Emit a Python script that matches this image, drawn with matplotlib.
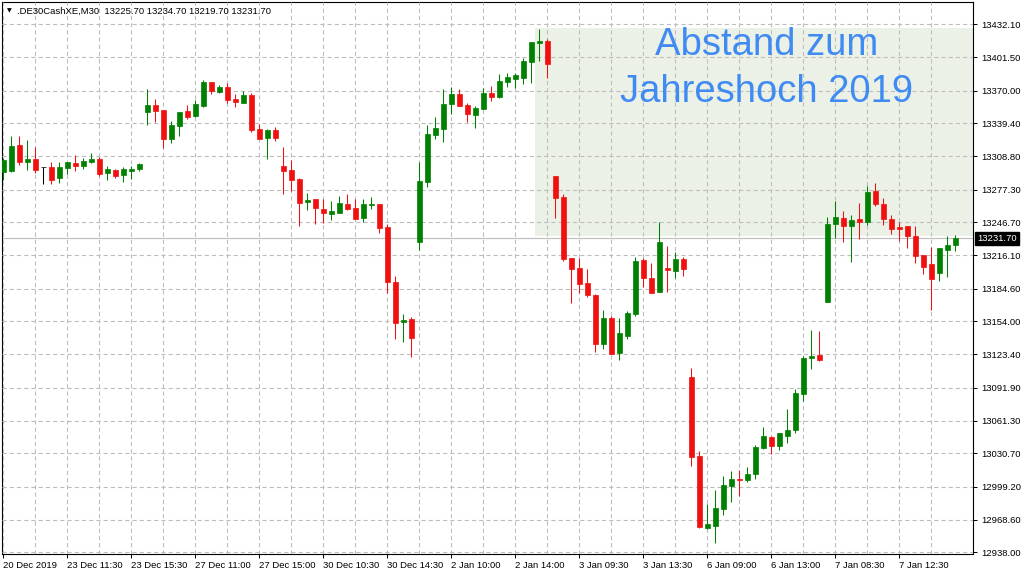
import matplotlib
matplotlib.use("Agg")
import matplotlib.pyplot as plt
from matplotlib.patches import Rectangle
import numpy as np

plt.rcParams['font.family'] = ['Liberation Sans', 'DejaVu Sans']
plt.rcParams['lines.scale_dashes'] = False

# ---------------- data (M30 candles, .DE30CashXE) ----------------
opens = [13294.2, 13294.8, 13319.2, 13303.5, 13306.1, 13298.3, 13298.6, 13288.5, 13297.9, 13302.3,
         13299.8, 13303.5, 13306.1, 13293.2, 13295.8, 13291.4, 13295.1, 13297.0, 13350.3, 13356.6,
         13351.9, 13325.0, 13337.2, 13351.0, 13346.6, 13355.9, 13378.1, 13369.0, 13373.4, 13362.2,
         13358.7, 13365.9, 13333.8, 13326.0, 13333.2, 13299.5, 13295.8, 13287.3, 13266.1, 13268.6,
         13259.3, 13254.9, 13255.8, 13263.9, 13260.5, 13251.1, 13263.0, 13263.9, 13242.4, 13190.9,
         13153.5, 13156.3, 13228.7, 13284.8, 13328.8, 13334.4, 13357.8, 13366.9, 13356.6, 13347.5,
         13353.1, 13367.8, 13364.3, 13378.4, 13380.9, 13382.1, 13397.1, 13414.3, 13416.5, 13290.1,
         13270.5, 13213.4, 13204.1, 13190.0, 13178.8, 13133.2, 13157.3, 13124.8, 13140.7, 13161.3,
         13211.5, 13194.7, 13181.9, 13204.1, 13201.5, 13212.5, 13102.0, 13028.1, 12960.7, 12962.6,
         12978.5, 13000.0, 13006.6, 13005.7, 13011.3, 13035.6, 13045.9, 13037.5, 13046.8, 13052.5,
         13086.1, 13119.8, 13122.6, 13172.5, 13245.5, 13250.8, 13243.6, 13249.9, 13247.4, 13276.1,
         13263.9, 13249.9, 13242.1, 13243.4, 13234.0, 13216.2, 13207.8, 13199.7, 13220.9, 13225.7]
highs = [13306.7, 13327.9, 13327.9, 13323.8, 13317.6, 13298.3, 13303.2, 13303.2, 13303.2, 13309.8,
         13306.7, 13311.7, 13307.6, 13299.5, 13296.7, 13298.6, 13299.8, 13302.3, 13371.6, 13362.2,
         13351.9, 13341.6, 13350.0, 13356.6, 13361.3, 13380.0, 13378.1, 13375.3, 13377.2, 13366.9,
         13369.7, 13367.8, 13338.8, 13334.1, 13336.0, 13317.3, 13305.4, 13288.5, 13274.2, 13268.6,
         13268.6, 13266.7, 13271.4, 13273.3, 13268.6, 13268.6, 13270.5, 13263.9, 13244.9, 13196.6,
         13161.0, 13158.2, 13303.2, 13337.9, 13345.4, 13371.6, 13373.4, 13371.6, 13358.5, 13355.6,
         13372.5, 13374.4, 13385.6, 13386.5, 13386.5, 13400.6, 13415.5, 13427.7, 13418.3, 13290.1,
         13273.3, 13213.4, 13213.4, 13203.1, 13179.7, 13164.7, 13159.1, 13157.3, 13163.8, 13214.3,
         13213.4, 13208.7, 13247.1, 13224.6, 13219.0, 13214.3, 13110.5, 13032.8, 12983.5, 12996.3,
         13009.4, 13014.1, 13015.0, 13017.8, 13038.4, 13055.3, 13046.8, 13049.6, 13072.1, 13090.8,
         13121.7, 13146.0, 13145.1, 13251.8, 13266.7, 13257.4, 13253.6, 13264.9, 13280.8, 13283.6,
         13269.6, 13253.6, 13247.1, 13243.4, 13243.4, 13216.2, 13223.7, 13222.8, 13234.0, 13234.7]
lows = [13286.4, 13293.9, 13300.4, 13295.8, 13293.2, 13282.7, 13282.9, 13283.9, 13292.3, 13295.1,
        13297.0, 13302.6, 13290.4, 13286.7, 13288.5, 13284.8, 13287.6, 13295.1, 13338.1, 13341.0,
        13316.3, 13321.3, 13327.9, 13343.8, 13345.6, 13355.0, 13367.2, 13368.1, 13358.7, 13355.0,
        13358.7, 13331.6, 13325.0, 13305.8, 13323.2, 13273.6, 13276.4, 13243.6, 13258.6, 13245.5,
        13246.4, 13249.0, 13255.8, 13258.6, 13250.2, 13247.4, 13259.5, 13237.1, 13180.4, 13137.9,
        13135.1, 13121.0, 13220.9, 13280.1, 13325.0, 13322.2, 13348.2, 13355.9, 13340.7, 13335.3,
        13353.1, 13360.6, 13363.4, 13373.7, 13372.5, 13376.5, 13377.5, 13398.0, 13382.1, 13251.1,
        13210.9, 13171.6, 13180.9, 13177.2, 13125.7, 13128.5, 13123.9, 13118.2, 13137.9, 13159.4,
        13186.3, 13180.9, 13181.9, 13181.9, 13195.0, 13196.8, 13019.0, 12960.7, 12959.8, 12946.7,
        12972.9, 12985.1, 12990.7, 13003.8, 13006.6, 13034.7, 13030.0, 13033.7, 13040.3, 13049.6,
        13079.6, 13109.5, 13117.0, 13172.5, 13232.1, 13228.7, 13209.9, 13231.4, 13244.6, 13262.4,
        13244.6, 13236.1, 13229.6, 13223.0, 13209.0, 13198.7, 13164.7, 13192.2, 13195.9, 13219.7]
closes = [13305.1, 13318.2, 13303.5, 13306.1, 13295.8, 13298.3, 13286.7, 13298.6, 13303.2, 13299.8,
          13304.2, 13306.1, 13292.3, 13296.7, 13290.4, 13296.7, 13296.7, 13301.4, 13356.6, 13351.2,
          13325.0, 13337.9, 13350.0, 13345.6, 13357.5, 13378.1, 13370.0, 13373.4, 13361.5, 13359.7,
          13365.9, 13333.5, 13325.0, 13333.2, 13326.0, 13295.1, 13286.7, 13265.2, 13267.7, 13260.5,
          13255.8, 13257.4, 13264.9, 13259.5, 13250.2, 13263.9, 13264.2, 13241.8, 13191.2, 13152.9,
          13155.1, 13138.8, 13285.5, 13329.4, 13335.1, 13357.5, 13366.9, 13355.9, 13348.4, 13353.8,
          13367.8, 13364.3, 13379.0, 13382.8, 13384.7, 13397.8, 13415.5, 13416.5, 13395.2, 13269.8,
          13212.5, 13203.4, 13189.4, 13179.1, 13133.2, 13157.3, 13123.9, 13143.2, 13161.9, 13210.6,
          13195.0, 13180.9, 13228.4, 13202.5, 13212.5, 13203.4, 13027.5, 12961.7, 12964.5, 12979.5,
          13001.0, 13006.6, 13005.7, 13011.3, 13036.5, 13046.8, 13037.5, 13049.6, 13052.5, 13087.1,
          13119.8, 13121.7, 13118.0, 13245.2, 13251.8, 13243.6, 13249.0, 13247.4, 13275.2, 13264.2,
          13250.2, 13240.8, 13240.5, 13234.3, 13215.6, 13205.3, 13194.0, 13222.8, 13225.6, 13231.7]

x_tick_labels = ['20 Dec 2019', '23 Dec 11:30', '23 Dec 15:30', '27 Dec 11:00', '27 Dec 15:00',
                 '30 Dec 10:30', '30 Dec 14:30', '2 Jan 10:00', '2 Jan 14:00', '3 Jan 09:30',
                 '3 Jan 13:30', '6 Jan 09:00', '6 Jan 13:00', '7 Jan 08:30', '7 Jan 12:30']
y_tick_values = [13432.10, 13401.50, 13370.00, 13339.40, 13308.80, 13277.30, 13246.70, 13216.10,
                 13184.60, 13154.00, 13123.40, 13091.90, 13061.30, 13030.70, 12999.20, 12968.60,
                 12938.00]

symbol = '.DE30CashXE,M30'
zone_top = 13428.9        # Jahreshoch 2019
zone_bottom = 13234.3
zone_start = 66.5         # candle index where the zone begins
zone_text = ['Abstand zum', 'Jahreshoch 2019']

# ---------------- styling ----------------
GREEN = '#008000'
RED = '#F01010'
GRID = '#BDBDBD'
ZONE = '#EBF1E6'
TXT_BLUE = '#3F8BF3'

W, H = 1024, 576
fig = plt.figure(figsize=(W / 100, H / 100), dpi=100)
fig.patch.set_facecolor('white')
ax_left, ax_right, ax_top, ax_bot = 2, 973, 2, 554
ax = fig.add_axes([ax_left / W, 1 - ax_bot / H, (ax_right - ax_left) / W, (ax_bot - ax_top) / H])
ax.set_facecolor('white')

n = len(opens)
x = np.arange(n)
o = np.array(opens); h = np.array(highs); l = np.array(lows); c = np.array(closes)
colors = np.where(c > o, GREEN, np.where(c < o, RED, 'black'))

ax.vlines(x, l, h, colors=colors, linewidth=0.75, zorder=3)
ax.bar(x, np.abs(c - o), bottom=np.minimum(o, c), width=0.58, color=colors,
       edgecolor=colors, linewidth=0.5, zorder=4)

# zone rectangle
xmin, xmax = -0.16, 121.2
ax.add_patch(Rectangle((zone_start, zone_bottom), xmax - zone_start, zone_top - zone_bottom,
                       facecolor=ZONE, edgecolor='none', zorder=0.5))

# current price line
last = closes[-1]
ax.axhline(last, color='#C0C0C0', linewidth=0.9, zorder=2)

ax.set_xlim(xmin, xmax)
ax.set_ylim(12936.41, 13452.97)

# axes / ticks
ax.yaxis.tick_right()
ax.set_yticks(y_tick_values)
ax.set_yticklabels([f'{v:.2f}' for v in y_tick_values])
ax.set_xticks(np.arange(0, 8 * len(x_tick_labels), 8))
ax.set_xticklabels(x_tick_labels, ha='left')
ax.set_xticks(np.arange(4, n + 1, 8), minor=True)
ax.tick_params(axis='y', which='major', length=3, width=0.7, pad=3, labelsize=6.8, colors='black')
ax.tick_params(axis='x', which='major', length=3, width=0.7, pad=2, labelsize=6.8, colors='black')
ax.tick_params(axis='x', which='minor', length=0)
ax.grid(True, which='both', color=GRID, linewidth=0.8, linestyle=(0, (3.0, 2.2)), zorder=1)
ax.set_axisbelow(False)
for sp in ax.spines.values():
    sp.set_color('black')
    sp.set_linewidth(0.8)

# current price label
import matplotlib.transforms as mtransforms
trans = mtransforms.blended_transform_factory(ax.transAxes, ax.transData)
ax.text(1.0 + 4 / (ax_right - ax_left), last, f'{last:.2f}', transform=trans, ha='left', va='center',
        fontsize=6.8, color='white', zorder=10, clip_on=False,
        bbox=dict(boxstyle='square,pad=0.25', facecolor='black', edgecolor='black'))

# header
fig.text(7 / W, 1 - 11 / H, '\u25BC', fontsize=4.5, family=['DejaVu Sans'], va='center', ha='left')
fig.text(17 / W, 1 - 11 / H,
         f'{symbol}  {opens[-1]:.2f} {highs[-1]:.2f} {lows[-1]:.2f} {closes[-1]:.2f}',
         fontsize=6.8, va='center', ha='left', color='black')

# zone text
fig.text(767 / W, 1 - 55 / H, zone_text[0], ha='center', va='baseline', fontsize=27.5,
         color=TXT_BLUE, zorder=5)
fig.text(767 / W, 1 - 101.7 / H, zone_text[1], ha='center', va='baseline', fontsize=27.5,
         color=TXT_BLUE, zorder=5)

fig.savefig('out.png', dpi=100, facecolor='white')
